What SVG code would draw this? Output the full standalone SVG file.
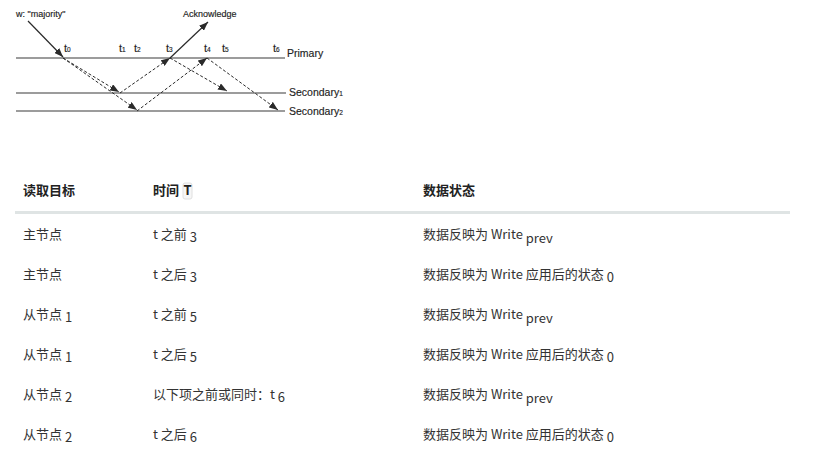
<svg xmlns="http://www.w3.org/2000/svg" width="818" height="463" viewBox="0 0 818 463">
<defs>
<marker id="ah" markerWidth="9" markerHeight="7" refX="9" refY="3.5" orient="auto" markerUnits="userSpaceOnUse">
<path d="M0,0 L9,3.5 L0,7 z" fill="#2a2a2a"/>
</marker>
<style>
.tl{stroke:#3a3a3a;stroke-width:1.2;fill:none}
.sol{stroke:#2a2a2a;stroke-width:1.2;fill:none}
.dash{stroke:#2a2a2a;stroke-width:1;stroke-dasharray:3 2;fill:none}
.lbl{font-family:"Liberation Sans",Arial,sans-serif;fill:#222;stroke:#222;stroke-width:0.15}
.t{font-family:"Liberation Sans",Arial,sans-serif;font-size:11px;fill:#222;stroke:#222;stroke-width:0.15}
.sub{font-size:6.5px}
.cell{font-family:"Noto Sans CJK SC","Noto Sans",sans-serif;font-size:13px;fill:#333}
.hdr{font-family:"Noto Sans CJK SC","Noto Sans",sans-serif;font-size:13px;font-weight:bold;fill:#222}
</style>
</defs>
<rect width="818" height="463" fill="#ffffff"/>

<g id="timelines">
<line class="tl" x1="16" y1="58" x2="285" y2="58"/>
<line class="tl" x1="16" y1="93" x2="286" y2="93"/>
<line class="tl" x1="16" y1="111" x2="285" y2="111"/>
</g>

<g id="labels">
<text class="lbl" x="16" y="17" font-size="9">w: "majority"</text>
<text class="lbl" x="183" y="17" font-size="9">Acknowledge</text>
<text class="lbl" x="287" y="57" font-size="10.5">Primary</text>
<text class="lbl" x="289" y="96" font-size="10.5">Secondary<tspan font-size="6.5">1</tspan></text>
<text class="lbl" x="289" y="115" font-size="10.5">Secondary<tspan font-size="6.5">2</tspan></text>
<text class="t" x="64" y="52">t<tspan class="sub">0</tspan></text>
<text class="t" x="119" y="52">t<tspan class="sub">1</tspan></text>
<text class="t" x="134" y="52">t<tspan class="sub">2</tspan></text>
<text class="t" x="166" y="52">t<tspan class="sub">3</tspan></text>
<text class="t" x="204" y="52">t<tspan class="sub">4</tspan></text>
<text class="t" x="222" y="52">t<tspan class="sub">5</tspan></text>
<text class="t" x="273" y="52">t<tspan class="sub">6</tspan></text>
</g>

<g id="connectors">
<line class="sol" x1="28" y1="21" x2="63" y2="57" marker-end="url(#ah)"/>
<line class="dash" x1="63" y1="58" x2="119" y2="92" marker-end="url(#ah)"/>
<line class="dash" x1="63" y1="58" x2="137" y2="110" marker-end="url(#ah)"/>
<line class="dash" x1="120" y1="93" x2="170" y2="58" marker-end="url(#ah)"/>
<line class="dash" x1="137" y1="111" x2="207" y2="58" marker-end="url(#ah)"/>
<line class="sol" x1="170" y1="58" x2="208" y2="22" marker-end="url(#ah)"/>
<line class="dash" x1="170" y1="58" x2="227" y2="91" marker-end="url(#ah)"/>
<line class="dash" x1="207" y1="58" x2="278" y2="110" marker-end="url(#ah)"/>
</g>

<g id="table-header">
<text class="hdr" x="23" y="195">读取目标</text>
<text class="hdr" x="153" y="195">时间</text>
<rect x="183" y="183" width="9" height="16" rx="2" fill="#f6f6f6" stroke="#e0e0e0" stroke-width="1"/>
<text class="hdr" x="187.5" y="195" text-anchor="middle" font-size="12">T</text>
<text class="hdr" x="423" y="195">数据状态</text>
<rect x="15" y="211" width="775" height="3" fill="#dfe4e4"/>
</g>

<g id="row1">
<text class="cell" x="23" y="239">主节点</text>
<text class="cell" x="153" y="239">t 之前 <tspan dy="3">3</tspan></text>
<text class="cell" x="423" y="239">数据反映为 Write <tspan dy="4">prev</tspan></text>
</g>
<g id="row2">
<text class="cell" x="23" y="279">主节点</text>
<text class="cell" x="153" y="279">t 之后 <tspan dy="3">3</tspan></text>
<text class="cell" x="423" y="279">数据反映为 Write 应用后的状态 <tspan dy="3">0</tspan></text>
</g>
<g id="row3">
<text class="cell" x="23" y="319">从节点 <tspan dy="3">1</tspan></text>
<text class="cell" x="153" y="319">t 之前 <tspan dy="3">5</tspan></text>
<text class="cell" x="423" y="319">数据反映为 Write <tspan dy="4">prev</tspan></text>
</g>
<g id="row4">
<text class="cell" x="23" y="359">从节点 <tspan dy="3">1</tspan></text>
<text class="cell" x="153" y="359">t 之后 <tspan dy="3">5</tspan></text>
<text class="cell" x="423" y="359">数据反映为 Write 应用后的状态 <tspan dy="3">0</tspan></text>
</g>
<g id="row5">
<text class="cell" x="23" y="399">从节点 <tspan dy="3">2</tspan></text>
<text class="cell" x="153" y="399">以下项之前或同时：t <tspan dy="3">6</tspan></text>
<text class="cell" x="423" y="399">数据反映为 Write <tspan dy="4">prev</tspan></text>
</g>
<g id="row6">
<text class="cell" x="23" y="439">从节点 <tspan dy="3">2</tspan></text>
<text class="cell" x="153" y="439">t 之后 <tspan dy="3">6</tspan></text>
<text class="cell" x="423" y="439">数据反映为 Write 应用后的状态 <tspan dy="3">0</tspan></text>
</g>
</svg>
